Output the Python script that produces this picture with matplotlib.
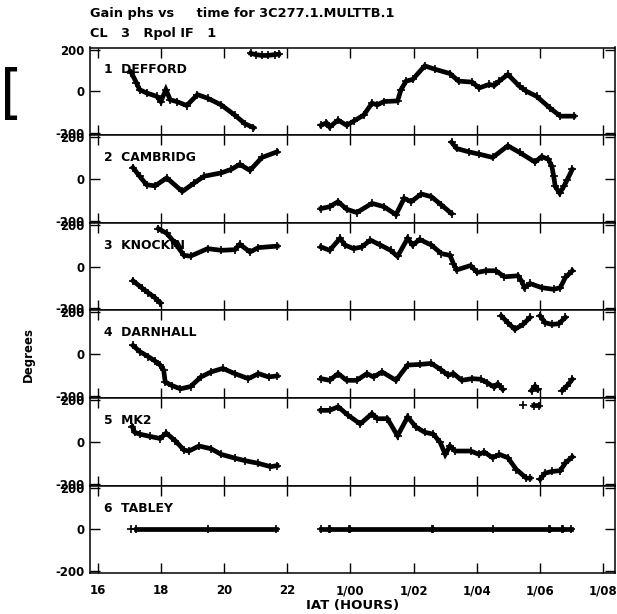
import matplotlib.pyplot as plt
import numpy as np

nan = np.nan

# antenna names (panel labels)
antennas = ['1  DEFFORD', '2  CAMBRIDG', '3  KNOCKIN', '4  DARNHALL', '5  MK2', '6  TABLEY']

# IAT hours / phase (degrees), nan breaks the trace
defford_t = [17.07, 17.23, 17.33, 17.55, 17.87, 18.0, 18.16, 18.3, 18.5, 18.82, 19.16, 19.48, 19.91, 20.34, 20.66, 20.93,
             nan, 20.85, 21.0, 21.2, 21.4, 21.6, 21.73,
             nan, 23.07, 23.24, 23.34, 23.61, 23.88, 24.1, 24.42, 24.68, 24.85, 25.06, 25.49, 25.6, 25.76, 25.97, 26.35,
             26.67, 27.15, 27.42, 27.85, 28.07, 28.39, 28.55, 28.71, 28.98, 29.35, 29.57, 29.89, 30.32, 30.64, 31.07]
defford_ph = [89, 41, 8, -8, -24, -49, 8, -41, -49, -68, -16, -33, -65, -114, -155, -174,
              nan, 182, 176, 172, 172, 176, 178,
              nan, -163, -151, -171, -138, -163, -143, -114, -57, -65, -49, -46, 8, 49, 57, 122,
              106, 85, 49, 44, 16, 33, 28, 49, 81, 24, 0, -24, -81, -119, -119]

cambridg_t = [17.12, 17.33, 17.55, 17.82, 18.19, 18.68, 19.05, 19.37, 19.91, 20.23, 20.5, 20.82, 21.2, 21.68,
              nan, 23.07, 23.34, 23.61, 23.88, 24.2, 24.68, 25.06, 25.44, 25.7, 25.92, 26.24, 26.56, 26.88, 27.2,
              nan, 27.2, 27.36, 27.74, 28.07, 28.5, 28.98, 29.35, 29.84, 30.05, 30.26, 30.37, 30.43, 30.48, 30.62,
              30.75, 30.86, 31.02]
cambridg_ph = [54, 13, -28, -33, 5, -60, -20, 13, 29, 46, 70, 41, 103, 130,
               nan, -142, -133, -109, -145, -161, -117, -133, -171, -93, -109, -72, -85, -125, -166,
               nan, 176, 146, 130, 119, 103, 159, 127, 81, 107, 94, 62, 13, -36, -68,
               -36, -3, 46]

knockin_t = [17.92, 18.19, 18.46, 18.73, 18.94, 19.48, 19.91, 20.34, 20.5, 20.82, 21.09, 21.68,
             nan, 17.12, 17.39, 17.6, 17.82, 17.98,
             nan, 23.07, 23.34, 23.67, 23.83, 24.1, 24.36, 24.63, 24.95, 25.27, 25.49, 25.81, 25.97, 26.19, 26.56,
             26.88, 27.15, 27.26, 27.36, 27.8, 28.01, 28.28, 28.6, 28.87, 29.3, 29.41, 29.51, 29.68, 30.05, 30.43,
             30.64, 30.8, 31.02]
knockin_ph = [182, 159, 111, 54, 50, 86, 78, 81, 107, 70, 91, 98,
              nan, -68, -101, -125, -150, -174,
              nan, 94, 78, 135, 103, 86, 94, 127, 103, 78, 49, 135, 103, 130, 103,
              62, 54, 13, -16, 5, -28, -20, -20, -49, -44, -68, -101, -81, -101, -109,
              -101, -52, -20]

darnhall_t = [17.12, 17.33, 17.6, 17.82, 17.98, 18.09, 18.14, 18.35, 18.62, 18.94, 19.27, 19.59, 19.96, 20.34, 20.77,
              21.09, 21.41, 21.68,
              nan, 23.07, 23.34, 23.61, 23.88, 24.2, 24.52, 24.73, 25.0, 25.44, 25.81, 26.19, 26.56, 26.88, 27.09,
              27.26, 27.52, 27.85, 28.12, 28.33, 28.55, 28.66, 28.82,
              nan, 28.77, 28.98, 29.2, 29.46, 29.68,
              nan, 30.0, 30.16, 30.37, 30.59, 30.8,
              nan, 29.73, 29.84, 29.92,
              nan, 30.7, 30.86, 31.02]
darnhall_ph = [42, 13, -11, -33, -52, -76, -133, -150, -166, -155, -109, -85, -68, -93, -117,
               -93, -109, -104,
               nan, -117, -125, -93, -125, -125, -93, -109, -85, -125, -52, -49, -44, -76, -101,
               -93, -125, -117, -120, -137, -158, -142, -169,
               nan, 184, 151, 119, 143, 176,
               nan, 184, 151, 143, 146, 176,
               nan, -174, -153, -169,
               nan, -174, -150, -120]

mk2_t = [17.1, 17.17, 17.33, 17.66, 17.98, 18.17, 18.46, 18.73, 18.89, 19.21, 19.59, 19.91, 20.34, 20.66, 21.09,
         21.47, 21.68,
         nan, 23.07, 23.34, 23.61, 23.93, 24.31, 24.68, 24.85, 25.17, 25.49, 25.81, 26.08, 26.35, 26.62, 26.84, 27.0,
         27.15, 27.31, 27.8, 28.07, 28.23, 28.5, 28.71, 28.98, 29.25, 29.57, 29.68,
         nan, 30.0, 30.16, 30.37, 30.64, 30.8, 31.02,
         nan, 29.45,
         nan, 29.8, 29.95]
mk2_ph = [72, 46, 37, 26, 16, 42, 5, -39, -44, -20, -33, -60, -78, -90, -103,
          -119, -114,
          nan, 151, 151, 168, 127, 86, 135, 111, 111, 29, 119, 70, 46, 37, -3, -60,
          -20, -44, -44, -60, -49, -76, -60, -76, -133, -174, -174,
          nan, -179, -150, -142, -138, -101, -72,
          nan, 176,
          nan, 174, 174]

tabley_t = [17.07, nan, 17.2, 19.5, 21.65,
            nan, 23.08, 23.32, nan, 23.36, 23.95, nan, 23.99, 26.58, nan, 26.62, 28.5, 30.28,
            nan, 30.32, 30.68, nan, 30.72, 30.98]
tabley_ph = [0, nan, 0, 0, 0,
             nan, 0, 0, nan, 0, 0, nan, 0, 0, nan, 0, 0, 0,
             nan, 0, 0, nan, 0, 0]

series = [(defford_t, defford_ph), (cambridg_t, cambridg_ph), (knockin_t, knockin_ph),
          (darnhall_t, darnhall_ph), (mk2_t, mk2_ph), (tabley_t, tabley_ph)]

xticks = [16, 18, 20, 22, 24, 26, 28, 30, 32]
xticklabels = ['16', '18', '20', '22', '1/00', '1/02', '1/04', '1/06', '1/08']
yticks = [-200, 0, 200]

plt.rcParams['font.family'] = 'DejaVu Sans'
plt.rcParams['font.weight'] = 'bold'

fig = plt.figure(figsize=(6.17, 6.14), dpi=100)
axes = fig.subplots(6, 1, sharex=True, gridspec_kw=dict(hspace=0))
fig.subplots_adjust(left=90/617, right=615/617, top=1-47.5/614, bottom=1-573.3/614)

for ax, name, (t, ph) in zip(axes, antennas, series):
    ax.plot(t, ph, color='black', lw=3.4, marker='+', ms=5.5, mew=1.2, solid_joinstyle='miter')
    ax.set_xlim(15.76, 32.37)
    ax.set_ylim(-210, 210)
    ax.set_yticks(yticks)
    ax.set_yticklabels(['-200', '0', '200'])
    ax.set_xticks(xticks)
    ax.tick_params(axis='both', direction='in', top=True, right=True, length=7, width=1,
                   labelsize=8.5, color='black')
    ax.tick_params(axis='y', pad=4)
    ax.tick_params(axis='x', pad=8)
    for s in ax.spines.values():
        s.set_linewidth(1.1)
    ax.text(0.026, 0.745, name, transform=ax.transAxes, fontsize=8.9, fontweight='bold',
            va='center', ha='left')

axes[-1].set_xticklabels(xticklabels)

fig.text(90/617, 1-14/614, 'Gain phs vs     time for 3C277.1.MULTTB.1', fontsize=9.3,
         fontweight='bold', va='center', ha='left')
fig.text(90/617, 1-33/614, 'CL   3   Rpol IF   1', fontsize=9.3, fontweight='bold',
         va='center', ha='left')
fig.text(353/617, 1-605/614, 'IAT (HOURS)', fontsize=9.5, fontweight='bold', va='center', ha='center')
fig.text(28/617, 1-355/614, 'Degrees', fontsize=8.5, fontweight='bold', rotation=90,
         va='center', ha='center')
fig.text(0.0, 1-95/614, '[', fontsize=42, fontweight='normal', va='center', ha='left')

plt.savefig('out.png', dpi=100)
